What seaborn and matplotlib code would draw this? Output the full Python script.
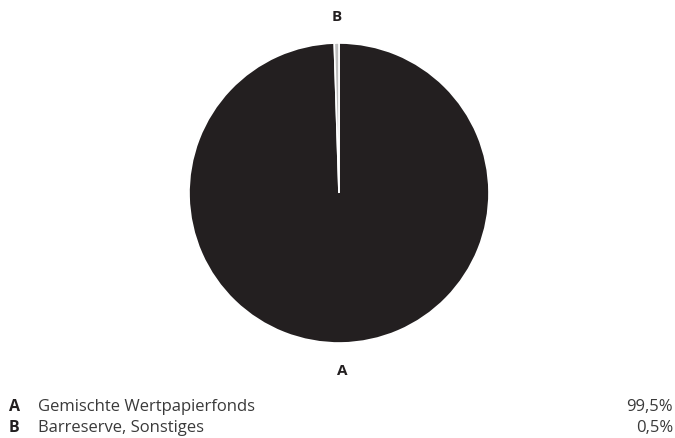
import seaborn as sns
import matplotlib.pyplot as plt

letters = ['A', 'B']
names = ['Gemischte Wertpapierfonds', 'Barreserve, Sonstiges']
shares = [99.5, 0.5]
share_labels = ['99,5%', '0,5%']

sns.set_theme(style="white")
plt.rcParams['font.family'] = ['Open Sans', 'DejaVu Sans']

ink = '#231f20'
colors = [ink, '#bdbdbd']

fig = plt.figure(figsize=(6.75, 4.39), dpi=100)
ax = fig.add_axes([189 / 675, (439 - 344) / 439, 300 / 675, 300 / 439])
ax.pie(shares, labels=letters, colors=colors, startangle=90, counterclock=False,
       labeldistance=1.18, radius=1,
       wedgeprops=dict(edgecolor='white', linewidth=1.2),
       textprops=dict(fontsize=11, fontweight='bold', color=ink,
                      ha='center', va='center'))
ax.set_xlim(-1, 1)
ax.set_ylim(-1, 1)
ax.set_aspect('equal')
ax.axis('off')

# legend rows below the pie
row_y = [407, 428]
for letter, name, lab, y in zip(letters, names, share_labels, row_y):
    fy = 1 - y / 439
    fig.text(9 / 675, fy, letter, fontsize=11.5, fontweight='bold', color=ink, va='center')
    fig.text(38 / 675, fy, name, fontsize=12, color='#3a3a3a', va='center')
    fig.text(673 / 675, fy, lab, fontsize=12, color='#3a3a3a', va='center', ha='right')

fig.savefig('out.png', dpi=100)
